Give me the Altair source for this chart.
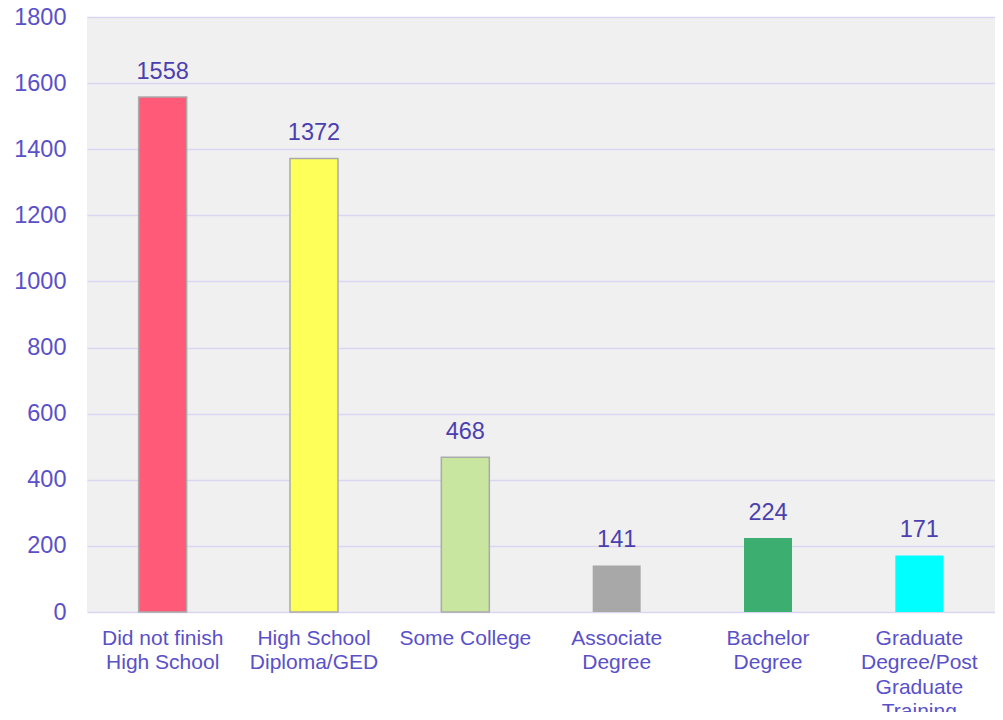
import altair as alt
import pandas as pd

categories = ["Did not finish|High School", "High School|Diploma/GED", "Some College",
              "Associate|Degree", "Bachelor|Degree", "Graduate|Degree/Post|Graduate|Training"]
values = [1558, 1372, 468, 141, 224, 171]
fills = ["#ff5a78", "#ffff5a", "#c8e6a0", "#a8a8a8", "#3cae70", "#00ffff"]
strokes = ["#aaaaaa", "#aaaaaa", "#aaaaaa", "transparent", "transparent", "transparent"]
y_ticks = [0, 200, 400, 600, 800, 1000, 1200, 1400, 1600, 1800]

df = pd.DataFrame({"cat": categories, "val": values, "fill": fills, "stroke": strokes})

axis_color = "#5a50c8"
label_color = "#4b3fae"
font = "Liberation Sans"

x = alt.X("cat:N", sort=categories, title=None,
          scale=alt.Scale(paddingInner=0.0, paddingOuter=0.0),
          axis=alt.Axis(labelExpr="split(datum.label, '|')", labelAngle=0,
                        labelFontSize=21, labelColor=axis_color, labelFont=font,
                        labelPadding=15, labelLineHeight=24.5, labelBaseline="top",
                        domain=False, ticks=False, grid=False, labelLimit=300))
y = alt.Y("val:Q", title=None,
          scale=alt.Scale(domain=[0, 1800], nice=False),
          axis=alt.Axis(values=y_ticks, format="d", labelFontSize=23.5, labelColor=axis_color,
                        labelFont=font, labelPadding=21, domain=False, ticks=False,
                        grid=True, gridColor="#d9d5f2", gridWidth=1.5))

bars = alt.Chart(df).mark_bar(size=48, strokeWidth=1.5).encode(
    x=x, y=y,
    fill=alt.Fill("fill:N", scale=None),
    stroke=alt.Stroke("stroke:N", scale=None),
)
text = alt.Chart(df).mark_text(dy=-13, baseline="bottom", fontSize=23.5,
                                color=label_color, font=font).encode(
    x=alt.X("cat:N", sort=categories),
    y="val:Q",
    text="val:Q",
)

chart = (bars + text).properties(
    width=908, height=595,
    padding={"left": 79, "top": 9, "right": 0, "bottom": 100},
    autosize=alt.AutoSizeParams(type="none"),
).configure_view(fill="#f0f0f0", stroke=None)

chart.save("out.html", embed_options={"renderer": "svg", "actions": False})
